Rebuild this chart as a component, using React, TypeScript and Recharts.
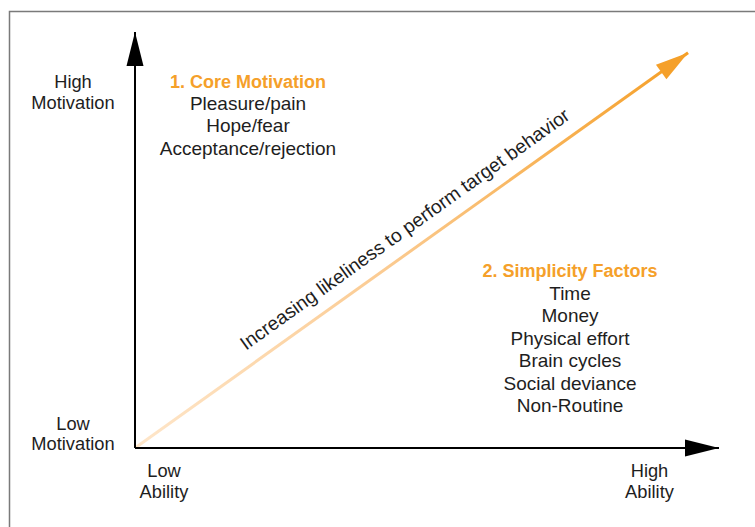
import React from 'react';
import { ComposedChart, Line, XAxis, YAxis } from 'recharts';

// axes and the diagonal, in data units (0..100 on both axes)
const motivationAxis = [
  { x: 0, y: 0 },
  { x: 0, y: 100 },
];
const abilityAxis = [
  { x: 0, y: 0 },
  { x: 100, y: 0 },
];
const behaviorLine = [
  { x: 0, y: 0 },
  { x: 94.7, y: 95 },
];

const highMotivation = ['High', 'Motivation'];
const lowMotivation = ['Low', 'Motivation'];
const lowAbility = ['Low', 'Ability'];
const highAbility = ['High', 'Ability'];

const coreTitle = '1. Core Motivation';
const coreItems = ['Pleasure/pain', 'Hope/fear', 'Acceptance/rejection'];
const simplicityTitle = '2. Simplicity Factors';
const simplicityItems = ['Time', 'Money', 'Physical effort', 'Brain cycles', 'Social deviance', 'Non-Routine'];
const behaviorLabel = 'Increasing likeliness to perform target behavior';

const FONT = '"Liberation Sans", Arial, sans-serif';
const ORANGE = '#F5A02A';
const INK = '#1e1e1e';

// draws an arrowhead on the last point of a line, pointing along the last segment
const arrowHead = (fill: string, len: number, half: number, count: number) => (props: any) => {
  const { cx, cy, index, points } = props;
  const key = `arrow-${index}`;
  if (index !== count - 1 || !points || !points[index - 1]) return <g key={key} />;
  const prev = points[index - 1];
  const ang = Math.atan2(cy - prev.y, cx - prev.x);
  const c = Math.cos(ang);
  const s = Math.sin(ang);
  const bx = cx - len * c;
  const by = cy - len * s;
  const px = -s * half;
  const py = c * half;
  return <polygon key={key} points={`${cx},${cy} ${bx + px},${by + py} ${bx - px},${by - py}`} fill={fill} />;
};

// stacked axis-end labels, tight leading
const stacked = (lines: string[], x: number, y0: number, step: number) => (
  <text x={x} y={y0} textAnchor="middle" fontFamily={FONT} fontSize={18.3} fill={INK}>
    {lines.map((t, i) => (
      <tspan key={t} x={x} dy={i === 0 ? 0 : step}>
        {t}
      </tspan>
    ))}
  </text>
);

const textLines = (lines: string[], x: number, y0: number, step: number) =>
  lines.map((t, i) => (
    <text key={t + i} x={x} y={y0 + i * step} textAnchor="middle" fontFamily={FONT} fontSize={19} fill={INK}>
      {t}
    </text>
  ));

export default function App() {
  return (
    <div style={{ position: 'absolute', left: 0, top: 0, width: 755, height: 527, background: '#fff' }}>
      <ComposedChart width={755} height={527} margin={{ top: 32, right: 36, bottom: 79, left: 135 }}>
        <defs>
          <linearGradient id="behaviorGrad" x1="0" y1="1" x2="1" y2="0">
            <stop offset="0%" stopColor="#FEE6CA" />
            <stop offset="45%" stopColor="#FBCB92" />
            <stop offset="100%" stopColor="#F59E24" />
          </linearGradient>
        </defs>
        <path d="M 9.5 527 V 11.5 H 755" fill="none" stroke="#7a7a7a" strokeWidth={1.5} />
        <XAxis type="number" dataKey="x" domain={[0, 100]} hide />
        <YAxis type="number" dataKey="y" domain={[0, 100]} hide />
        <Line
          data={behaviorLine}
          dataKey="y"
          type="linear"
          stroke="url(#behaviorGrad)"
          strokeWidth={3}
          dot={arrowHead(ORANGE, 33, 9, behaviorLine.length)}
          activeDot={false}
          isAnimationActive={false}
        />
        <Line
          data={motivationAxis}
          dataKey="y"
          type="linear"
          stroke="#000"
          strokeWidth={2}
          dot={arrowHead('#000', 34, 8.5, motivationAxis.length)}
          activeDot={false}
          isAnimationActive={false}
        />
        <Line
          data={abilityAxis}
          dataKey="y"
          type="linear"
          stroke="#000"
          strokeWidth={2}
          dot={arrowHead('#000', 34, 8.5, abilityAxis.length)}
          activeDot={false}
          isAnimationActive={false}
        />

        {stacked(highMotivation, 73, 88.3, 20.6)}
        {stacked(lowMotivation, 73, 429.7, 20.6)}
        {stacked(lowAbility, 164, 477.3, 20.6)}
        {stacked(highAbility, 649.5, 477.3, 20.6)}

        <text x={248} y={87.7} textAnchor="middle" fontFamily={FONT} fontSize={18} fontWeight="bold" fill={ORANGE}>
          {coreTitle}
        </text>
        {textLines(coreItems, 248, 110, 22.3)}

        <text x={570} y={277.3} textAnchor="middle" fontFamily={FONT} fontSize={18} fontWeight="bold" fill={ORANGE}>
          {simplicityTitle}
        </text>
        {textLines(simplicityItems, 570, 299.5, 22.55)}

        <text
          x={408.5}
          y={234.5}
          textAnchor="middle"
          fontFamily={FONT}
          fontSize={19.3}
          fill={INK}
          transform="rotate(-35.56 408.5 234.5)"
        >
          {behaviorLabel}
        </text>
      </ComposedChart>
    </div>
  );
}
